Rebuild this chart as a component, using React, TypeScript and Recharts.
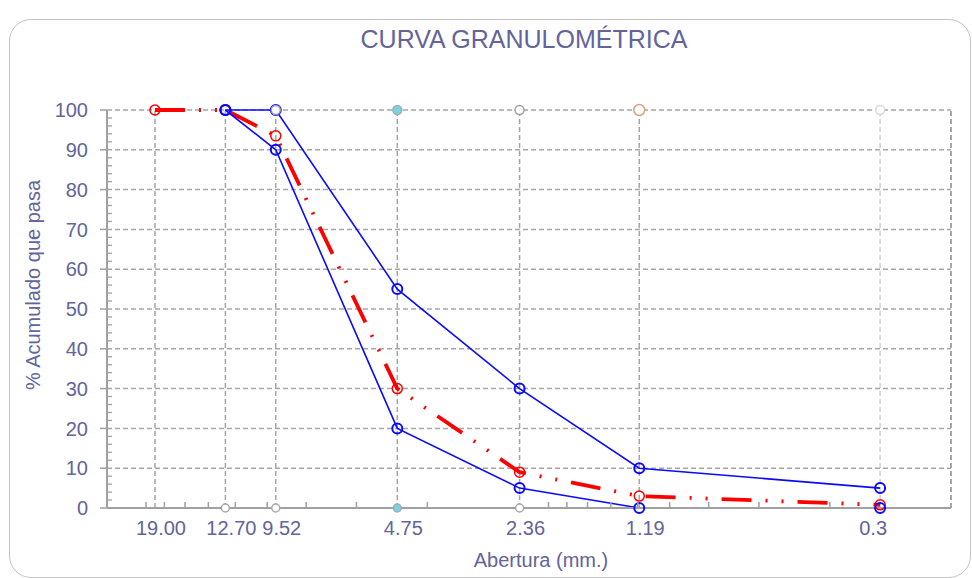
import {
  ComposedChart,
  Line,
  ReferenceLine,
  XAxis,
  YAxis
} from "recharts";

// sieve openings (mm) and names
const sieveSizes = [19.0, 12.7, 9.52, 4.75, 2.36, 1.19, 0.3];
const sieveNames = ['3/4"', '1/2"', '3/8"', "Nº4", "Nº8", "Nº16", "Nº50"];
const openingLabels = ["19.00", "12.70", "9.52", "4.75", "2.36", "1.19", "0.3"];

// % passing
const sampleSizes = [19.0, 12.7, 9.52, 4.75, 2.36, 1.19, 0.3];
const samplePassing = [100, 100, 93.5, 30, 9, 3, 0.8];

const limitSizes = [12.7, 9.52, 4.75, 2.36, 1.19, 0.3];
const upperLimit = [100, 100, 55, 30, 10, 5];
const lowerLimit = [100, 90, 20, 5, 0, 0];

const topMarkSizes = [9.52, 4.75, 2.36, 1.19, 0.3];
const bottomMarkSizes = [12.7, 9.52, 4.75, 2.36];

const yTicks = [0, 10, 20, 30, 40, 50, 60, 70, 80, 90, 100];
const yMinorTicks = [2, 4, 6, 8, 12, 14, 16, 18, 22, 24, 26, 28, 32, 34, 36, 38, 42, 44, 46, 48, 52, 54, 56, 58, 62, 64, 66, 68, 72, 74, 76, 78, 82, 84, 86, 88, 92, 94, 96, 98];
const xMinorTicks = [20, 18, 16, 14, 12, 10, 8, 6, 4, 2, 1.8, 1.6, 1.4, 1.2, 1, 0.8, 0.6, 0.4];

const xDomain = [0.2, 25];

const sampleData = sampleSizes.map((x, i) => ({ x, y: samplePassing[i] }));
const upperData = limitSizes.map((x, i) => ({ x, y: upperLimit[i] }));
const lowerData = limitSizes.map((x, i) => ({ x, y: lowerLimit[i] }));
const topMarks = topMarkSizes.map((x) => ({ x, y: 100 }));
const bottomMarks = bottomMarkSizes.map((x) => ({ x, y: 0 }));

const TEXT = "#62649a";
const GRID = "#a6a6a6";
const AXIS = "#a0a0a0";
const FONT = "'Liberation Sans', Arial, sans-serif";

const topMarkColors = ["#9a9ab8", "#9ab0b8", "#a0a0a0", "#d9a27c", "#d8d8d8"];
const topMarkFills = ["#fff", "#7fd0e0", "#fff", "#fff", "#fff"];
const bottomMarkColors = ["#a8a8a8", "#a8a8a8", "#9ab0b8", "#a8a8a8"];
const bottomMarkFills = ["#fff", "#fff", "#7fd0e0", "#fff"];

function TopTick(props: any) {
  const { x, y, payload } = props;
  const i = sieveSizes.indexOf(payload.value);
  const lift = sieveNames[i] === "Nº16" ? 5 : 0;
  return (
    <text x={x} y={y - 18 - lift} textAnchor="middle" fill={TEXT} fontSize={20} fontFamily={FONT}>
      {sieveNames[i]}
    </text>
  );
}

function BottomTick(props: any) {
  const { x, y, payload } = props;
  const i = sieveSizes.indexOf(payload.value);
  if (i < 0) {
    return <line x1={x} x2={x} y1={y} y2={y - 6} stroke={AXIS} strokeWidth={1.5} />;
  }
  const shift = openingLabels[i] === "0.3" ? -7 : 6;
  return (
    <text x={x + shift} y={y + 27} textAnchor="middle" fill={TEXT} fontSize={20} fontFamily={FONT}>
      {openingLabels[i]}
    </text>
  );
}

function LeftTick(props: any) {
  const { x, y, payload } = props;
  if (payload.value % 10 !== 0) {
    return <line x1={x} x2={x + 5} y1={y} y2={y} stroke={AXIS} strokeWidth={1.3} />;
  }
  return (
    <g>
      <line x1={x - 7} x2={x} y1={y} y2={y} stroke={AXIS} strokeWidth={1.5} />
      <text x={x - 19} y={y} dy="0.36em" textAnchor="end" fill={TEXT} fontSize={20} fontFamily={FONT}>
        {payload.value}
      </text>
    </g>
  );
}

function markDot(colors: string[], fills: string[], r: number) {
  return (props: any) => {
    const { cx, cy, index } = props;
    return (
      <circle
        key={"m" + index}
        cx={cx}
        cy={cy}
        r={colors[index] === "#d9a27c" ? r + 1 : r}
        fill={fills[index]}
        stroke={colors[index]}
        strokeWidth={1.5}
      />
    );
  };
}

export default function App() {
  return (
    <div style={{ position: "absolute", left: 0, top: 0, width: 972, height: 578, background: "#fff", overflow: "hidden", fontFamily: FONT }}>
      <div
        style={{
          position: "absolute",
          left: 9,
          top: 19,
          width: 960,
          height: 557,
          border: "1px solid #c4c4c4",
          borderRadius: 22
        }}
      />
      <div style={{ position: "absolute", left: 0, width: 1048, top: 25, textAlign: "center", fontSize: 25, color: TEXT }}>
        CURVA GRANULOMÉTRICA
      </div>
      <div style={{ position: "absolute", left: 0, width: 1082, top: 549, textAlign: "center", fontSize: 20, color: TEXT }}>
        Abertura (mm.)
      </div>
      <div
        style={{
          position: "absolute",
          left: 33,
          top: 285,
          transform: "translate(-50%, -50%) rotate(-90deg)",
          whiteSpace: "nowrap",
          fontSize: 20,
          lineHeight: "24px",
          color: TEXT
        }}
      >
        % Acumulado que pasa
      </div>

      <div style={{ position: "absolute", left: 0, top: 0 }}>
        <ComposedChart width={972} height={578} margin={{ top: 60, right: 21, bottom: 30, left: 47 }}>
          <XAxis
            xAxisId={0}
            type="number"
            dataKey="x"
            scale="log"
            domain={xDomain}
            reversed
            allowDataOverflow
            ticks={[...sieveSizes, ...xMinorTicks]}
            interval={0}
            height={40}
            tickSize={0}
            tickMargin={0}
            axisLine={{ stroke: AXIS, strokeWidth: 2 }}
            tickLine={false}
            tick={<BottomTick />}
          />
          <XAxis
            xAxisId="top"
            orientation="top"
            type="number"
            scale="log"
            domain={xDomain}
            reversed
            allowDataOverflow
            ticks={sieveSizes}
            interval={0}
            height={50}
            tickSize={0}
            tickMargin={0}
            axisLine={false}
            tickLine={false}
            tick={<TopTick />}
          />
          <YAxis
            yAxisId={0}
            type="number"
            domain={[0, 100]}
            ticks={[...yTicks, ...yMinorTicks]}
            interval={0}
            width={60}
            tickSize={0}
            tickMargin={0}
            axisLine={{ stroke: AXIS, strokeWidth: 2 }}
            tickLine={false}
            tick={<LeftTick />}
          />

          {yTicks.slice(1).map((v) => (
            <ReferenceLine key={"h" + v} y={v} stroke={GRID} strokeWidth={1.5} strokeDasharray="5 3" />
          ))}
          {sieveSizes.map((s, i) => (
            <ReferenceLine
              key={"v" + s}
              x={s}
              stroke={i === sieveSizes.length - 1 ? "#d0d0d0" : GRID}
              strokeWidth={1.5}
              strokeDasharray="5 3"
            />
          ))}
          <ReferenceLine x={xDomain[0]} stroke={GRID} strokeWidth={2} strokeDasharray="5 3" />

          <Line
            data={bottomMarks}
            dataKey="y"
            stroke="none"
            dot={markDot(bottomMarkColors, bottomMarkFills, 4)}
            activeDot={false}
            isAnimationActive={false}
          />
          <Line
            data={sampleData}
            dataKey="y"
            type="linear"
            stroke="#ff0000"
            strokeWidth={3.8}
            strokeDasharray="30 14 2 14 2 14"
            dot={{ r: 5, stroke: "#ff0000", strokeWidth: 1.5, fill: "none", strokeDasharray: "0" }}
            isAnimationActive={false}
          />
          <Line
            data={upperData}
            dataKey="y"
            type="linear"
            stroke="#0a0aff"
            strokeWidth={1.6}
            dot={{ r: 5, stroke: "#0a0aff", strokeWidth: 2, fill: "none" }}
            isAnimationActive={false}
          />
          <Line
            data={lowerData}
            dataKey="y"
            type="linear"
            stroke="#0a0aff"
            strokeWidth={1.6}
            dot={{ r: 5, stroke: "#0a0aff", strokeWidth: 2, fill: "none" }}
            isAnimationActive={false}
          />
          <Line
            data={topMarks}
            dataKey="y"
            stroke="none"
            dot={markDot(topMarkColors, topMarkFills, 4.5)}
            activeDot={false}
            isAnimationActive={false}
          />
        </ComposedChart>
      </div>
    </div>
  );
}
